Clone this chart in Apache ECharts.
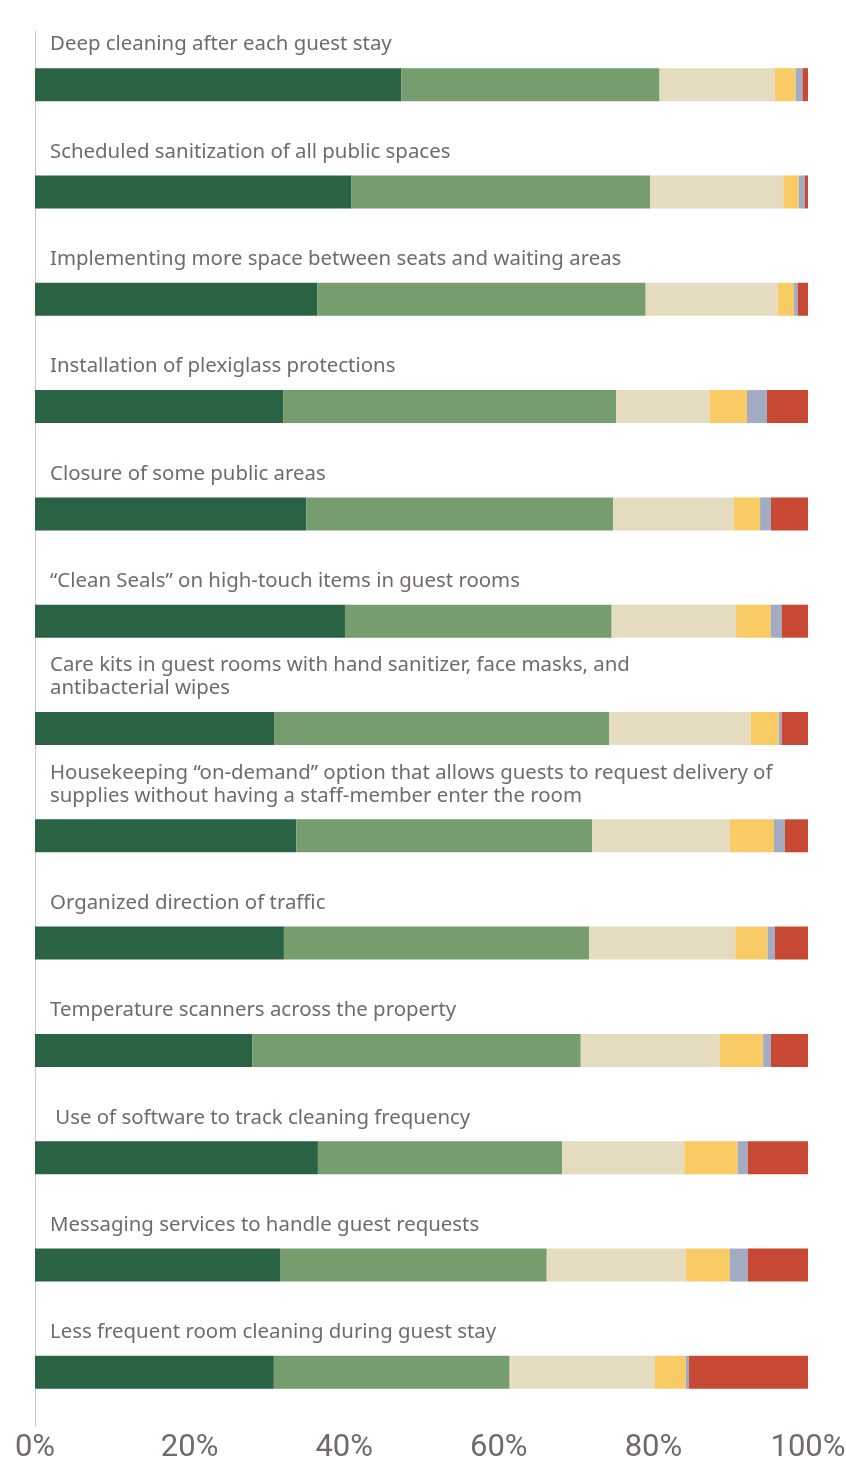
<!DOCTYPE html>
<html>
<head>
<meta charset="utf-8">
<script src="https://cdn.jsdelivr.net/npm/echarts@6/dist/echarts.min.js"></script>
<style>
  html, body { margin: 0; padding: 0; background: #fff; }
  #chart { width: 846px; height: 1460px; }
</style>
</head>
<body>
<div id="chart"></div>
<script>
// measures, top to bottom
var categories = [
  "Deep cleaning after each guest stay",
  "Scheduled sanitization of all public spaces",
  "Implementing more space between seats and waiting areas",
  "Installation of plexiglass protections",
  "Closure of some public areas",
  "\u201cClean Seals\u201d on high-touch items in guest rooms",
  "Care kits in guest rooms with hand sanitizer, face masks, and\nantibacterial wipes",
  "Housekeeping \u201con-demand\u201d option that allows guests to request delivery of\nsupplies without having a staff-member enter the room",
  "Organized direction of traffic",
  "Temperature scanners across the property",
  " Use of software to track cleaning frequency",
  "Messaging services to handle guest requests",
  "Less frequent room cleaning during guest stay"
];

// share of responses (%) per segment
var seg1 = [47.4, 40.9, 36.5, 32.1, 35.1, 40.1, 31.0, 33.8, 32.2, 28.1, 36.6, 31.7, 30.9];
var seg2 = [33.4, 38.7, 42.5, 43.1, 39.7, 34.5, 43.3, 38.3, 39.5, 42.5, 31.6, 34.5, 30.5];
var seg3 = [14.9, 17.2, 17.1, 12.1, 15.6, 16.1, 18.3, 17.8, 18.9, 18.0, 15.8, 18.0, 18.8];
var seg4 = [2.7, 2.0, 2.1, 4.8, 3.4, 4.5, 3.6, 5.7, 4.2, 5.6, 6.9, 5.7, 4.0];
var seg5 = [0.9, 0.8, 0.5, 2.6, 1.4, 1.4, 0.4, 1.4, 0.9, 1.0, 1.3, 2.3, 0.4];
var seg6 = [0.8, 0.4, 1.3, 5.3, 4.8, 3.4, 3.4, 3.0, 4.3, 4.8, 7.8, 7.8, 15.4];

var xTicks = [0, 20, 40, 60, 80, 100];

var segNames = ["seg1", "seg2", "seg3", "seg4", "seg5", "seg6"];
var segData = [seg1, seg2, seg3, seg4, seg5, seg6];
var segColors = ["#2a6344", "#759d6d", "#e5dbbf", "#f9cb64", "#a1abc4", "#c74934"];

var textColor = "#716b67";

var chart = echarts.init(document.getElementById("chart"));

var series = segData.map(function (d, i) {
  var s = {
    name: segNames[i],
    type: "bar",
    stack: "total",
    barWidth: 33,
    data: d,
    itemStyle: { color: segColors[i] },
    emphasis: { disabled: true },
    silent: true
  };
  if (i === 0) {
    // question text sits above each bar
    s.label = {
      show: true,
      position: [15, -12],
      align: "left",
      verticalAlign: "bottom",
      formatter: function (p) { return p.name; },
      color: textColor,
      fontFamily: "Noto Sans",
      fontSize: 20.4,
      lineHeight: 23
    };
  }
  return s;
});

chart.setOption({
  animation: false,
  grid: { left: 35, right: 38, top: 31, bottom: 34, outerBoundsMode: "none", containLabel: false },
  xAxis: {
    type: "value",
    min: 0,
    max: 100,
    interval: 20,
    axisLine: { show: false },
    axisTick: { show: false },
    splitLine: { show: false },
    axisLabel: {
      margin: 7,
      color: textColor,
      fontFamily: "Roboto",
      fontSize: 31,
      formatter: function (v) { return xTicks.indexOf(v) >= 0 ? v + "%" : ""; }
    }
  },
  yAxis: {
    type: "category",
    inverse: true,
    data: categories,
    axisLine: { show: true, lineStyle: { color: "#c9c9c9", width: 1 } },
    axisTick: { show: false },
    axisLabel: { show: false }
  },
  series: series
});
</script>
</body>
</html>
